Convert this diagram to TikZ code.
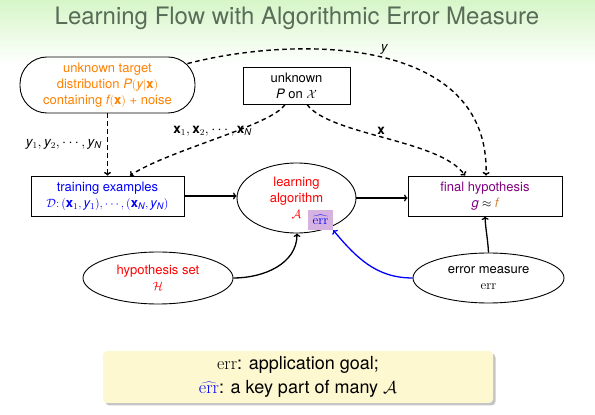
\documentclass[tikz,border=0pt]{standalone}
\usepackage{fontspec}
\setmainfont{TeX Gyre Heros}
\usetikzlibrary{shapes.geometric,shadows,arrows.meta}
\definecolor{bgtop}{RGB}{214,246,200}
\definecolor{titlecol}{RGB}{88,108,88}
\definecolor{borange}{RGB}{255,128,0}
\definecolor{bpurple}{RGB}{128,0,128}
\definecolor{ftan}{RGB}{204,136,68}
\definecolor{hatbox}{RGB}{214,178,224}
\definecolor{noteyel}{RGB}{253,248,208}
\newcommand\serr{\mbox{\fontfamily{lmr}\selectfont err}}
\newcommand\herr{\widehat{\serr}}
\newcommand\mv[1]{\mathit{#1}}
\tikzset{
  base/.style={font=\fontsize{13}{16}\selectfont, align=center},
  rectbox/.style={base, draw, line width=0.9pt, inner sep=0pt},
  ellbox/.style={base, draw, ellipse, line width=0.9pt, inner sep=0pt},
  lbl/.style={font=\fontsize{13.5}{15}\selectfont, inner sep=1pt},
  darr/.style={line width=1.4pt, dash pattern=on 4.5pt off 3.5pt, -{To[length=3.5pt,width=7pt]}},
  sarr/.style={line width=1.3pt, -{To[length=3.5pt,width=7pt]}},
  barr/.style={sarr, draw=blue},
}
\begin{document}
\begin{tikzpicture}[x=1pt,y=1pt]
\useasboundingbox (0,0) rectangle (595,415);
\shade[top color=bgtop, bottom color=white] (0,350) rectangle (595,415);
\node[font=\fontsize{24}{28}\selectfont, text=titlecol] (title) at (297,397) {Learning Flow with Algorithmic Error Measure};

\node[rectbox, rounded corners=27pt, minimum width=175pt, minimum height=56pt, text=borange] (target) at (107.5,330)
  {unknown target\\ distribution $\mv{P}(\mv{y}|\mathbf{x})$\\ containing $\mv{f}(\mathbf{x})$ + noise};
\node[rectbox, minimum width=107pt, minimum height=37pt] (pdist) at (296.5,329.5)
  {unknown\\ $\mv{P}$ on $\mathcal{X}$};
\node[rectbox, minimum width=153pt, minimum height=40pt, text=blue] (train) at (107.5,219)
  {training examples\\ $\mathcal{D}\colon (\mathbf{x}_1,\mv{y}_1),\cdots,(\mathbf{x}_{\mv{N}},\mv{y}_{\mv{N}})$};
\node[ellbox, minimum width=119pt, minimum height=70pt, text=red] (learn) at (296.5,217)
  {learning\\ algorithm\\ $\mathcal{A}$};
\node[base, fill=hatbox, inner sep=0pt, minimum width=25pt, minimum height=20pt, text=blue] (errhat) at (320.5,195) {$\herr$};
\node[rectbox, minimum width=154pt, minimum height=40pt, text=bpurple] (final) at (485,219)
  {final hypothesis\\ $\mv{g}\textcolor{black}{{}\approx{}}\textcolor{ftan}{\mv{f}}$};
\node[ellbox, minimum width=150pt, minimum height=52pt, text=red] (hyp) at (158,137)
  {hypothesis set\\ $\mathcal{H}$};
\node[ellbox, minimum width=151pt, minimum height=50pt] (errm) at (488.5,137)
  {error measure\\ $\serr$};
\node[font=\fontsize{18}{24}\selectfont, align=center, fill=noteyel, rounded corners=4pt, inner sep=0pt,
      minimum width=390pt, minimum height=52pt,
      drop shadow={shadow xshift=2.5pt, shadow yshift=-2.5pt, fill=black!45}] (note) at (298,38)
  {$\serr$: application goal;\\ $\textcolor{blue}{\herr}$: a key part of many $\mathcal{A}$};

% dashed flows
\draw[darr] ([shift={(-8pt,-7pt)}]target.north east) .. controls +(113,29) and +(4,138) .. ([xshift=1pt]final.north)
  node[lbl, pos=0.51, above=2pt] {$\mv{y}$};
\draw[darr] (target.south) -- (train.north)
  node[lbl, midway, left=4pt] {$\mv{y}_1,\mv{y}_2,\cdots,\mv{y}_{\mv{N}}$};
\draw[darr] ([xshift=-11.5pt]pdist.south) .. controls +(-13,-21) and +(40,26) .. ([xshift=22.5pt]train.north)
  node[lbl, pos=0.3, anchor=north east] {$\mathbf{x}_1,\mathbf{x}_2,\cdots,\mathbf{x}_{\mv{N}}$};
\draw[darr] ([xshift=10.5pt]pdist.south) .. controls +(23,-31) and +(-25,36) .. ([xshift=-20pt]final.north)
  node[lbl, pos=0.48, above=1pt] {$\mathbf{x}$};

% solid flows
\draw[sarr] (train.east) -- (train.east -| learn.west);
\draw[sarr] (learn.east) -- (learn.east -| final.west);
\draw[sarr] (hyp.east) to[out=0,in=-90] ([xshift=0.5pt]learn.south);
\draw[barr] (errm.west) to[out=180,in=-50] (errhat.south east);
\draw[sarr] (errm.north) to[out=93,in=-87] (final.south);
\end{tikzpicture}
\end{document}
